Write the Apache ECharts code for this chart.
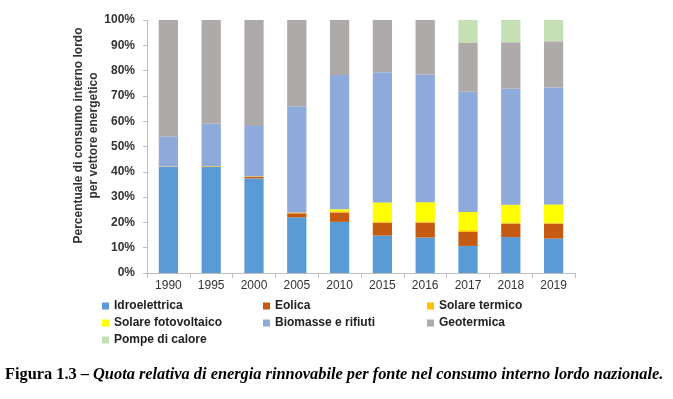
<!DOCTYPE html>
<html>
<head>
<meta charset="utf-8">
<script src="https://cdn.jsdelivr.net/npm/echarts@6/dist/echarts.min.js"></script>
<style>
  html, body { margin: 0; padding: 0; background: #fff; }
  #chart { width: 673px; height: 399px; }
</style>
</head>
<body>
<div id="chart"></div>
<script>
const years = ["1990", "1995", "2000", "2005", "2010", "2015", "2016", "2017", "2018", "2019"];

// quote percentuali per fonte
const idroelettrica = [41.9, 41.9, 37.4, 22.0, 20.2, 14.8, 14.0, 10.7, 14.2, 13.6];
const eolica = [0.0, 0.0, 0.6, 1.6, 3.7, 5.0, 5.9, 5.5, 5.3, 5.9];
const solareTermico = [0.2, 0.3, 0.2, 0.3, 0.5, 0.6, 0.5, 0.7, 0.5, 0.4];
const solareFotovoltaico = [0.0, 0.0, 0.0, 0.0, 0.8, 7.5, 7.6, 7.2, 7.0, 7.2];
const biomasse = [11.9, 16.8, 19.9, 42.0, 53.1, 51.4, 50.5, 47.6, 45.9, 46.2];
const geotermica = [46.0, 41.0, 41.9, 34.1, 21.7, 20.7, 21.5, 19.2, 18.3, 18.3];
const pompeCalore = [0.0, 0.0, 0.0, 0.0, 0.0, 0.0, 0.0, 9.1, 8.8, 8.4];

const seriesDefs = [
  ["Idroelettrica", idroelettrica, "#5b9bd5"],
  ["Eolica", eolica, "#c55a11"],
  ["Solare termico", solareTermico, "#ffc000"],
  ["Solare fotovoltaico", solareFotovoltaico, "#ffff00"],
  ["Biomasse e rifiuti", biomasse, "#8eaadb"],
  ["Geotermica", geotermica, "#aeaaaa"],
  ["Pompe di calore", pompeCalore, "#c5e0b4"],
];

const legendText = { fontFamily: "Liberation Sans", fontWeight: "bold", fontSize: 12, color: "#222" };

function legendColumn(names, left) {
  return {
    data: names,
    left: left,
    top: 300,
    orient: "vertical",
    itemWidth: 7,
    itemHeight: 7,
    itemGap: 5,
    icon: "rect",
    textStyle: legendText,
    padding: 0,
    selectedMode: false,
  };
}

const chart = echarts.init(document.getElementById("chart"));

chart.setOption({
  animation: false,
  title: {
    left: 5,
    top: 367,
    padding: 0,
    text: "{b|Figura 1.3 – }{i|Quota relativa di energia rinnovabile per fonte nel consumo interno lordo nazionale.}",
    textStyle: {
      rich: {
        b: { fontFamily: "Liberation Serif", fontWeight: "bold", fontSize: 16.35, color: "#000" },
        i: { fontFamily: "Liberation Serif", fontStyle: "italic", fontSize: 16.35, color: "#000" },
      },
    },
  },
  legend: [
    legendColumn(["Idroelettrica", "Solare fotovoltaico", "Pompe di calore"], 102),
    legendColumn(["Eolica", "Biomasse e rifiuti"], 263),
    legendColumn(["Solare termico", "Geotermica"], 427),
  ],
  grid: { left: 147, right: 98, top: 20, bottom: 126 },
  xAxis: {
    type: "category",
    data: years,
    axisLine: { lineStyle: { color: "#bfbfbf" } },
    axisTick: { show: true, length: 5, lineStyle: { color: "#bfbfbf" } },
    axisLabel: { fontFamily: "Liberation Sans", fontSize: 12, color: "#333", margin: 7 },
  },
  yAxis: {
    type: "value",
    min: 0,
    max: 100,
    interval: 10,
    name: "Percentuale di consumo interno lordo\nper vettore energetico",
    nameLocation: "middle",
    nameGap: 46,
    nameMoveOverlap: false,
    nameTextStyle: {
      fontFamily: "Liberation Sans",
      fontWeight: "bold",
      fontSize: 12,
      color: "#333",
      lineHeight: 15,
      padding: [0, 0, 0, 22],
    },
    axisLine: { show: true, lineStyle: { color: "#bfbfbf" } },
    axisTick: { show: true, length: 4, lineStyle: { color: "#bfbfbf" } },
    splitLine: { show: false },
    axisLabel: {
      formatter: "{value}%",
      fontFamily: "Liberation Sans",
      fontWeight: "bold",
      fontSize: 12,
      color: "#333",
      margin: 12,
    },
  },
  series: seriesDefs.map(([name, values, color]) => ({
    name: name,
    type: "bar",
    stack: "tot",
    data: values,
    barWidth: "45%",
    itemStyle: { color: color },
  })),
});
</script>
</body>
</html>
